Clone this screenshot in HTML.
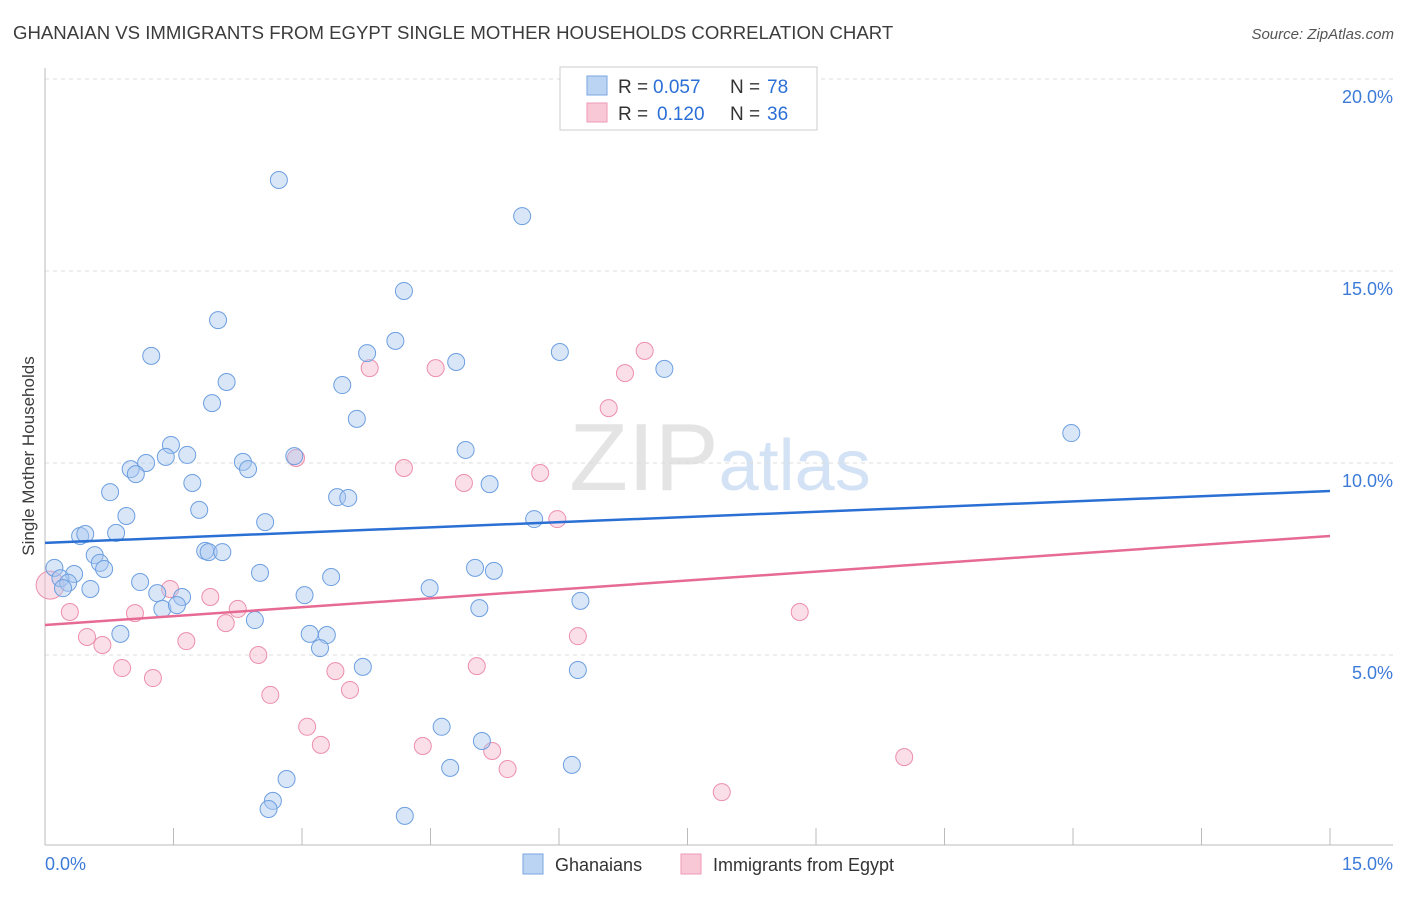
<!DOCTYPE html>
<html><head><meta charset="utf-8"><style>
body{margin:0;background:#fff;font-family:"Liberation Sans",sans-serif;}
svg text{font-family:"Liberation Sans",sans-serif;}
</style></head><body>
<svg id="chart" width="1406" height="892" viewBox="0 0 1406 892" xmlns="http://www.w3.org/2000/svg">
<text x="13" y="39" font-size="18.6" fill="#3c3c3c">GHANAIAN VS IMMIGRANTS FROM EGYPT SINGLE MOTHER HOUSEHOLDS CORRELATION CHART</text>
<text x="1394" y="39" font-size="15" fill="#555" font-style="italic" text-anchor="end">Source: ZipAtlas.com</text>
<text x="720" y="490" font-size="96" text-anchor="middle" fill="#e4e4e4" font-family="Liberation Serif"><tspan>ZIP</tspan><tspan fill="#d3e2f4" font-family="Liberation Sans" font-size="72">atlas</tspan></text>
<g id="grid"></g>
<g id="axes"></g>
<g id="marks"></g>
<text transform="translate(34,456) rotate(-90)" font-size="17" fill="#3c3c3c" text-anchor="middle">Single Mother Households</text>
<g>
<rect x="560" y="67" width="257" height="63" fill="#fff" stroke="#ccc"/>
<rect x="587" y="76" width="20" height="19" fill="#bcd4f4" stroke="#7aa6e0"/>
<rect x="587" y="103" width="20" height="19" fill="#f9c8d7" stroke="#ee9ab4"/>
<text x="618" y="93" font-size="19" fill="#333">R =</text>
<text x="653" y="93" font-size="19" fill="#2b6fd6">0.057</text>
<text x="730" y="93" font-size="19" fill="#333">N =</text>
<text x="767" y="93" font-size="19" fill="#2b6fd6">78</text>
<text x="618" y="120" font-size="19" fill="#333">R =</text>
<text x="657" y="120" font-size="19" fill="#2b6fd6">0.120</text>
<text x="730" y="120" font-size="19" fill="#333">N =</text>
<text x="767" y="120" font-size="19" fill="#2b6fd6">36</text>
</g>
<g>
<rect x="523" y="854" width="20" height="20" fill="#bcd4f4" stroke="#7aa6e0"/>
<text x="555" y="871" font-size="18" fill="#333">Ghanaians</text>
<rect x="681" y="854" width="20" height="20" fill="#f9c8d7" stroke="#ee9ab4"/>
<text x="713" y="871" font-size="18" fill="#333">Immigrants from Egypt</text>
</g>
</svg>
<script>
const blueX=[2.73,5.57,4.19,2.02,4.09,1.24,3.76,6.01,4.80,7.23,2.12,3.47,1.95,3.64,11.98,1.47,4.91,1.66,1.41,2.91,1.18,2.31,1.00,1.06,2.37,1.72,5.19,0.76,3.41,3.54,1.80,0.95,5.71,2.57,0.41,0.47,0.83,1.87,1.91,2.07,0.58,0.64,0.69,5.02,5.24,0.11,0.34,2.51,3.34,0.18,1.11,0.27,0.53,4.49,0.21,1.31,1.60,3.03,6.25,1.37,1.54,5.07,2.45,0.88,3.09,3.29,3.21,3.71,6.22,4.63,5.10,4.73,6.15,2.82,2.66,2.61,4.20];
const blueY=[17.37,16.43,14.48,13.72,13.18,12.79,12.86,12.89,12.63,12.45,12.11,12.03,11.56,11.15,10.78,10.47,10.34,10.21,10.16,10.18,10.0,10.03,9.84,9.71,9.84,9.48,9.45,9.24,9.11,9.09,8.78,8.62,8.54,8.46,8.10,8.15,8.18,7.71,7.68,7.68,7.60,7.40,7.24,7.27,7.19,7.27,7.11,7.14,7.03,7.00,6.90,6.88,6.72,6.74,6.74,6.61,6.51,6.56,6.41,6.20,6.30,6.22,5.91,5.55,5.55,5.52,5.18,4.69,4.61,3.13,2.76,2.06,2.14,1.77,1.20,0.99,0.81];
const pinkX=[7.00,3.79,4.56,6.77,6.58,2.93,4.19,5.78,4.89,5.98,0.06,1.46,1.93,2.25,1.05,0.29,2.11,8.81,0.49,1.65,0.67,6.22,2.49,0.90,1.26,3.39,5.04,3.56,2.63,3.06,3.22,4.41,5.22,5.40,10.03,7.90];
const pinkY=[12.92,12.47,12.47,12.34,11.43,10.13,9.87,9.74,9.48,8.54,6.82,6.72,6.51,6.20,6.09,6.12,5.83,6.12,5.47,5.36,5.26,5.49,5.0,4.66,4.40,4.58,4.71,4.09,3.96,3.13,2.66,2.63,2.50,2.03,2.34,1.43];
const blueTrend=[7.92,9.27];
const pinkTrend=[5.78,8.10];
const yTicks=[5,10,15,20];
const yTickLabels=["5.0%","10.0%","15.0%","20.0%"];
const xTicks=[0,1.5,3,4.5,6,7.5,9,10.5,12,13.5,15];

const NS="http://www.w3.org/2000/svg";
const X=v=>45+v/15*1285;
const Y=v=>847-v/5*192;
function mk(tag,attrs,parent){const e=document.createElementNS(NS,tag);for(const k in attrs)e.setAttribute(k,attrs[k]);parent.appendChild(e);return e;}
const grid=document.getElementById('grid'),axes=document.getElementById('axes'),marks=document.getElementById('marks');
yTicks.forEach((t,i)=>{
  const l=mk('line',{x1:45,x2:1393,y1:Y(t),y2:Y(t),stroke:'#ddd','stroke-dasharray':'4,4'},grid);
  
  
  const tx=mk('text',{x:1393,y:Y(t)+24,'font-size':18,fill:'#3d7bd8','text-anchor':'end'},axes);
  tx.textContent=yTickLabels[i];
  
  
});
const topGrid=mk('line',{x1:45,x2:1393,y1:79,y2:79,stroke:'#ddd','stroke-dasharray':'4,4'},grid);


const ya=mk('line',{x1:45,x2:45,y1:68,y2:845,stroke:'#bbb'},axes);


const xa=mk('line',{x1:45,x2:1393,y1:845,y2:845,stroke:'#bbb'},axes);


xTicks.forEach(t=>{
  const l=mk('line',{x1:X(t),x2:X(t),y1:828,y2:845,stroke:'#bbb'},axes);
  
  
});
const xl0=mk('text',{x:45,y:870,'font-size':18,fill:'#3d7bd8'},axes);xl0.textContent='0.0%';


const xl1=mk('text',{x:1393,y:870,'font-size':18,fill:'#3d7bd8','text-anchor':'end'},axes);xl1.textContent='15.0%';


pinkX.forEach((x,i)=>{
  const c=mk('circle',{cx:X(x),cy:Y(pinkY[i]),r:i===10?14:8.5,fill:'#f7b9cc','fill-opacity':0.45,stroke:'#ec8fab','stroke-width':1},marks);
  
  
});
blueX.forEach((x,i)=>{
  const c=mk('circle',{cx:X(x),cy:Y(blueY[i]),r:8.5,fill:'#a9c8f0','fill-opacity':0.45,stroke:'#6d9fe0','stroke-width':1},marks);
  
  
});
const bl=mk('line',{x1:X(0),x2:X(15),y1:Y(blueTrend[0]),y2:Y(blueTrend[1]),stroke:'#2a6fd4','stroke-width':2.5},marks);


const pl=mk('line',{x1:X(0),x2:X(15),y1:Y(pinkTrend[0]),y2:Y(pinkTrend[1]),stroke:'#e66a93','stroke-width':2.5},marks);


</script>
</body></html>
